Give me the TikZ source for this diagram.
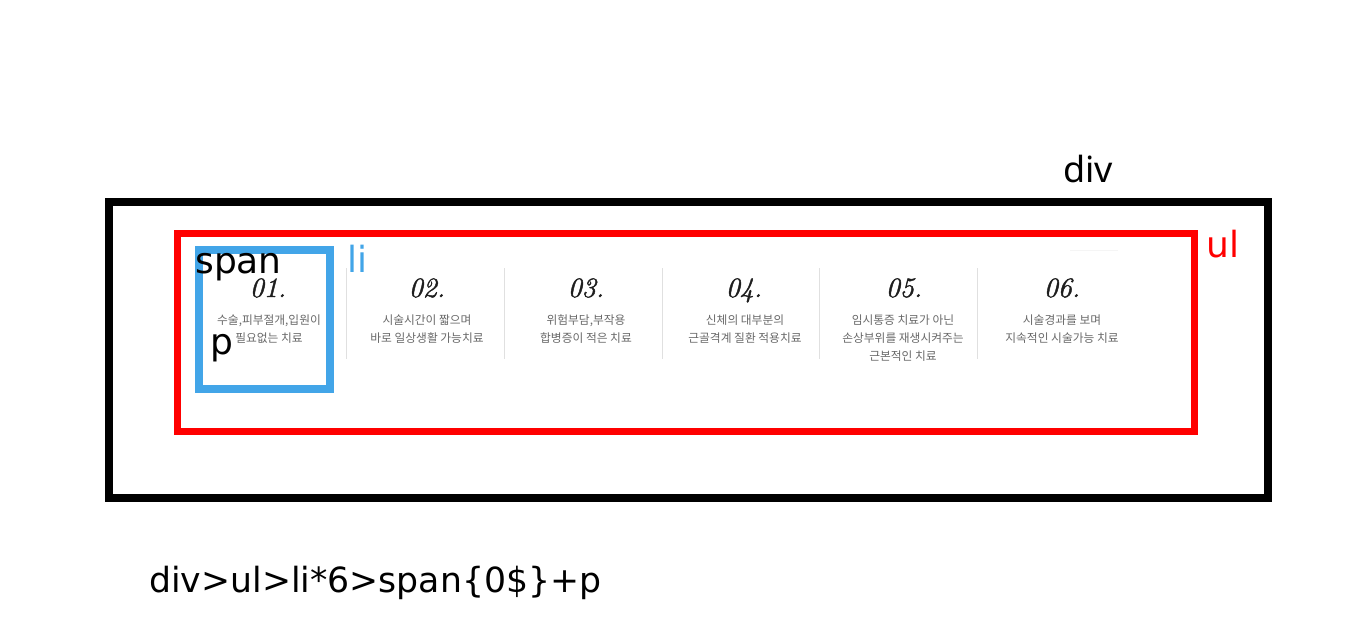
\documentclass[tikz,border=0pt]{standalone}
\usepackage{fontspec}
\setmainfont{Noto Sans}
\newfontfamily\kor{Noto Sans CJK KR}
\newfontfamily\numfont[ItalicFeatures={FakeBold=1.5}]{Latin Modern Roman}
\newfontfamily\lblfont{DejaVu Sans}
\definecolor{liblue}{RGB}{66,165,232}
\definecolor{txtgray}{RGB}{105,105,105}
\definecolor{sepgray}{RGB}{224,224,224}
\definecolor{numblack}{RGB}{30,30,30}
\begin{document}
\begin{tikzpicture}[x={0.75pt},y={-0.75pt},
  lbl/.style={anchor=base west,inner sep=0pt,font=\lblfont\fontsize{27}{30}\selectfont},
  num/.style={anchor=base,inner sep=0pt,text=numblack,font=\numfont\itshape\fontsize{21}{24}\selectfont},
  desc/.style={anchor=base,inner sep=0pt,align=center,text=txtgray,font=\kor\fontsize{8.8}{13.5}\selectfont},
  sep/.style={draw=sepgray,line width=0.75pt}]
\useasboundingbox (0,0) rectangle (1346,633);
\fill[white] (0,0) rectangle (1346,633);
% frames
\draw[black,line width=6pt] (109,202) rectangle (1268,498);
\draw[red,line width=5.25pt] (177,233) rectangle (1194,431);
\draw[liblue,line width=6pt] (199,250) rectangle (330,389);
% faint line
\draw[gray!8,line width=0.75pt] (1070,250) -- (1118,250);
% separators
\foreach \x in {346,504,662,819,977} \draw[sep] (\x,268) -- (\x,359);
% numbers
\node[num] (n1) at (268,297) {01.};
\node[num] (n2) at (427,297) {02.};
\node[num] (n3) at (586,297) {03.};
\node[num] (n4) at (744,297) {04.};
\node[num] (n5) at (904,297) {05.};
\node[num] (n6) at (1062,297) {06.};
% descriptions (base anchor = last line)
\node[desc] (d1) at (269,342) {수술,피부절개,입원이\\필요없는 치료};
\node[desc] (d2) at (427,342) {시술시간이 짧으며\\바로 일상생활 가능치료};
\node[desc] (d3) at (586,342) {위험부담,부작용\\합병증이 적은 치료};
\node[desc] (d4) at (745,342) {신체의 대부분의\\근골격계 질환 적용치료};
\node[desc] (d5) at (903,360) {임시통증 치료가 아닌\\손상부위를 재생시켜주는\\근본적인 치료};
\node[desc] (d6) at (1062,342) {시술경과를 보며\\지속적인 시술가능 치료};
% labels
\node[anchor=base west,inner sep=0pt,font=\fontsize{27}{30}\selectfont] (div) at (1063,182) {div};
\node[lbl,text=red] (ul) at (1206,257) {ul};
\node[lbl,text=liblue] (li) at (347,272) {li};
\node[lbl] (span) at (195,273) {span};
\node[lbl] (p) at (210,354) {p};
\node[lbl,font=\lblfont\fontsize{26}{30}\selectfont] (code) at (149,592) {div>ul>li*6>span\{0\$\}+p};
\end{tikzpicture}
\end{document}
